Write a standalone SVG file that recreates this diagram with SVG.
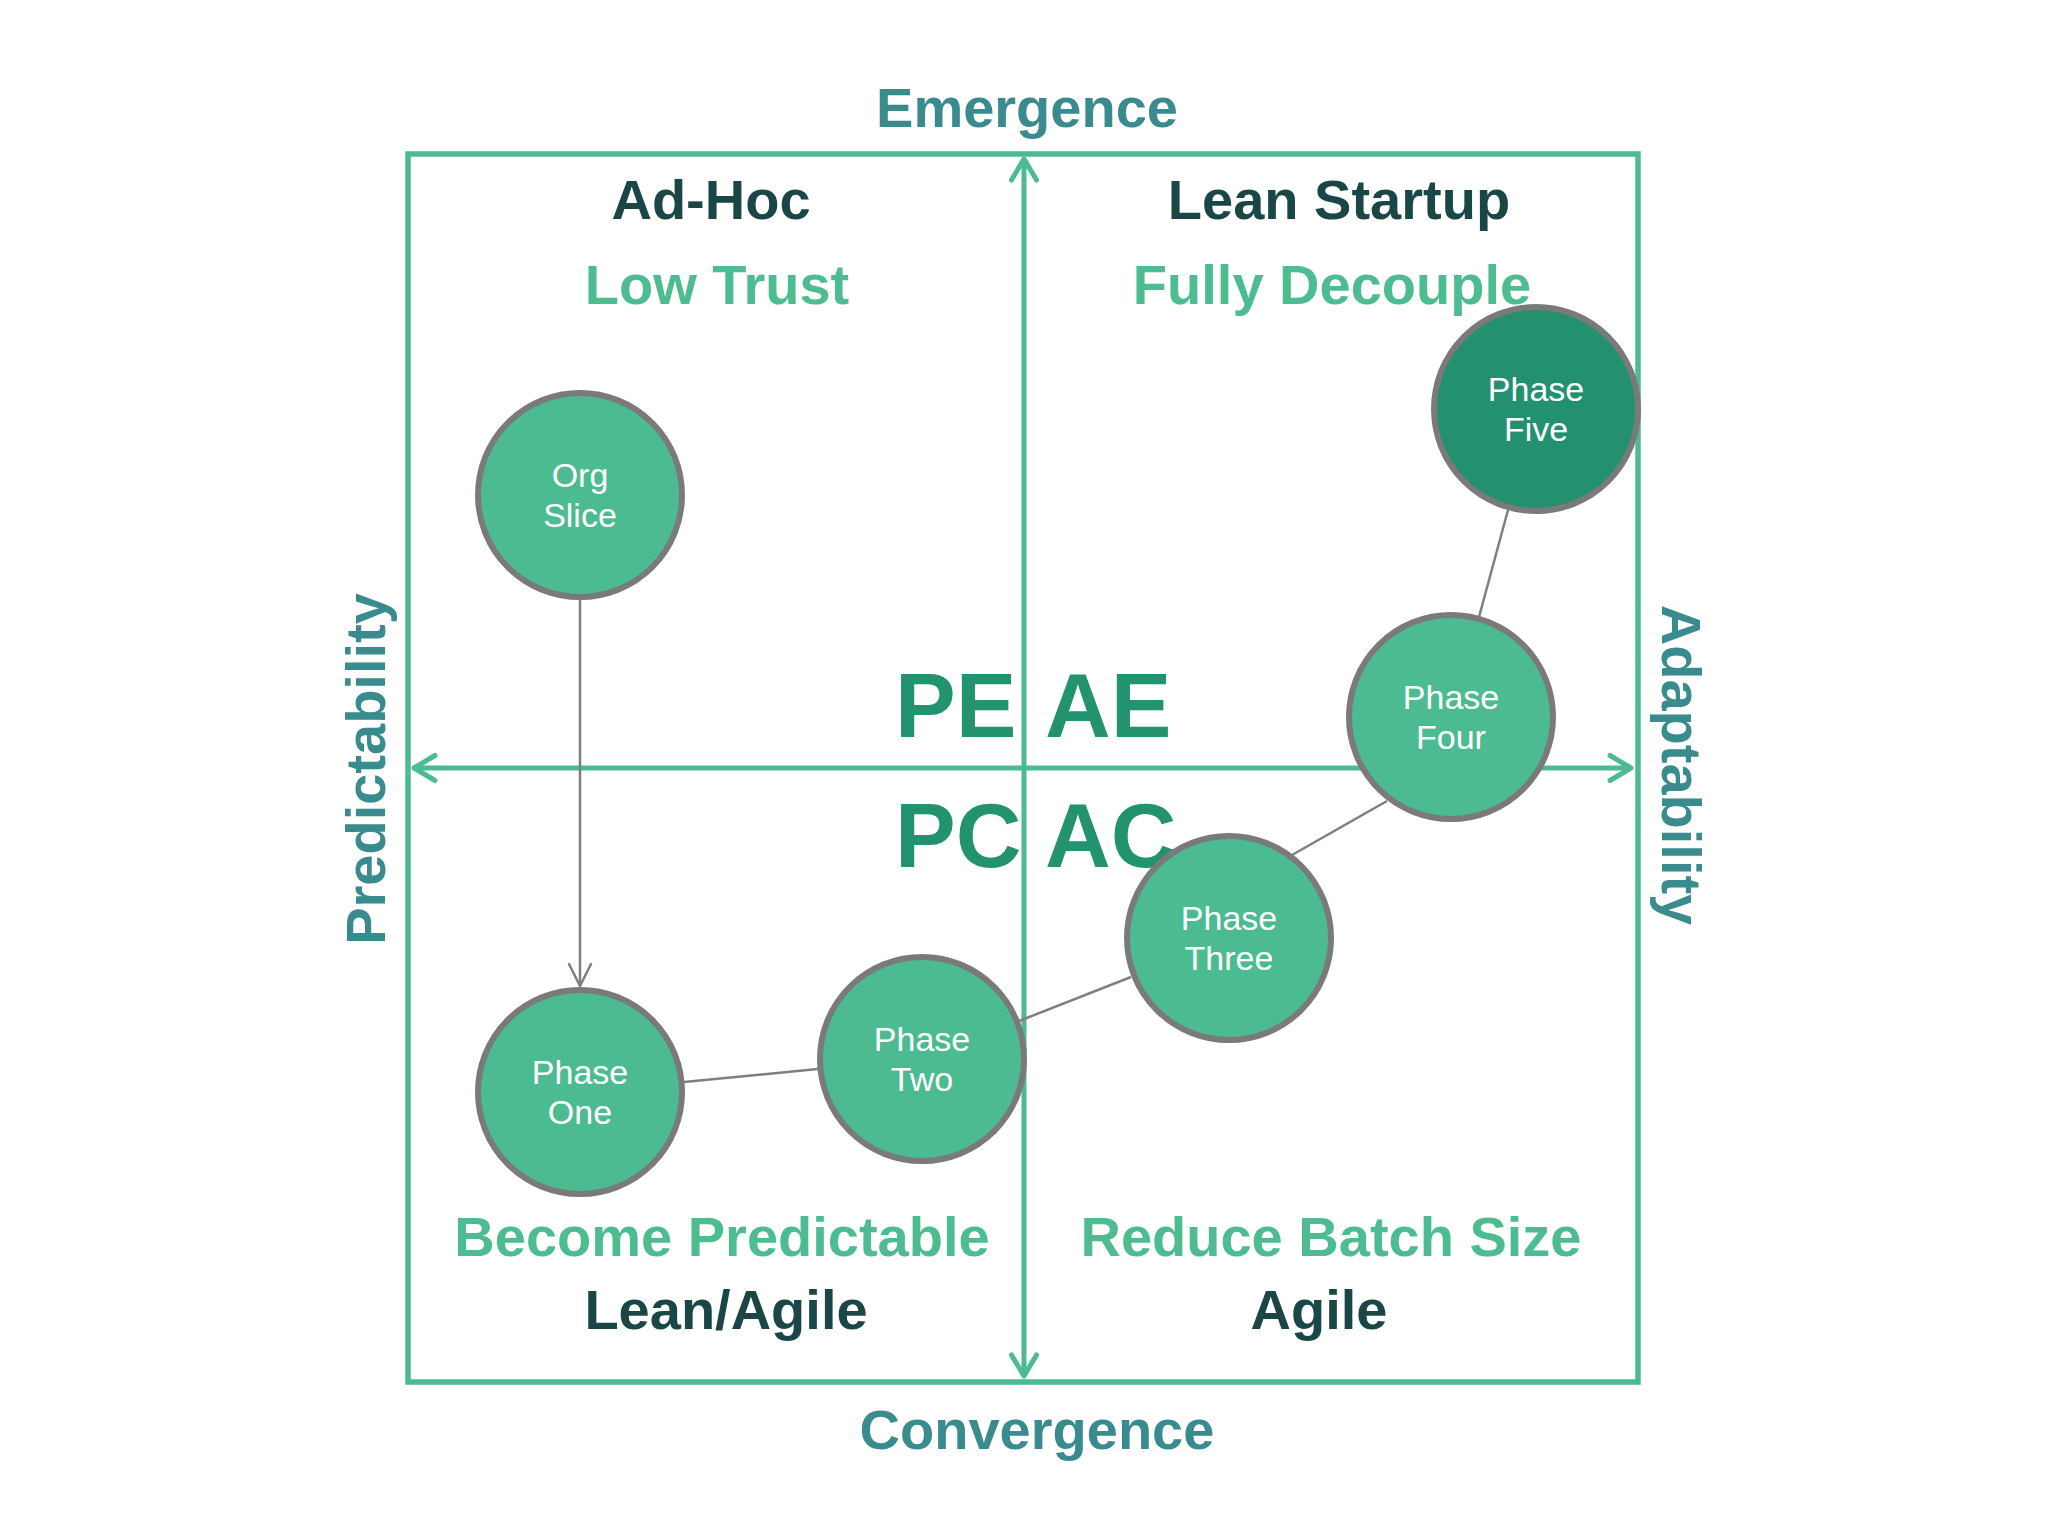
<svg xmlns="http://www.w3.org/2000/svg" width="2048" height="1536" viewBox="0 0 2048 1536">
  <style>
    text { font-family: "Liberation Sans", Arial, "Noto Sans", sans-serif; }
    .axislabel { font-size: 56px; font-weight: bold; fill: #3a8b8d; text-anchor: middle; }
    .title { font-size: 56px; font-weight: bold; fill: #1b4646; text-anchor: middle; }
    .sub { font-size: 56px; font-weight: bold; fill: #4dbd91; text-anchor: middle; }
    .big { font-size: 91px; font-weight: bold; fill: #23926f; }
    .frame { fill: none; stroke: #4dbb92; stroke-width: 5.5; }
    .axis { fill: none; stroke: #4dbb92; stroke-width: 5; marker-start: url(#axisArrow); marker-end: url(#axisArrow); }
    .conn { fill: none; stroke: #7f7f7f; stroke-width: 2.5; }
    .node circle { fill: #4dbb92; stroke: #7a7a7a; stroke-width: 6; }
    .node.dark circle { fill: #23906f; }
    .node text { font-size: 34px; fill: #ffffff; text-anchor: middle; }
  </style>
  <defs>
    <marker id="axisArrow" markerUnits="userSpaceOnUse" viewBox="-30 -20 40 40" refX="0" refY="0" markerWidth="40" markerHeight="40" orient="auto-start-reverse">
      <path d="M -21 -12.5 L 0 0 L -21 12.5" fill="none" stroke="#4dbb92" stroke-width="5" stroke-linecap="round" stroke-linejoin="round"/>
    </marker>
    <marker id="connArrow" markerUnits="userSpaceOnUse" viewBox="-30 -15 35 30" refX="0" refY="0" markerWidth="35" markerHeight="30" orient="auto">
      <path d="M -22 -11 L 0 0 L -22 11" fill="none" stroke="#7f7f7f" stroke-width="2.5" stroke-linecap="round" stroke-linejoin="round"/>
    </marker>
  </defs>

  <rect x="0" y="0" width="2048" height="1536" fill="#ffffff"/>

  <g id="frame">
    <rect class="frame" x="408" y="154" width="1230" height="1228"/>
  </g>

  <g id="axes">
    <line class="axis" x1="414" y1="768" x2="1631" y2="768"/>
    <line class="axis" x1="1024" y1="1376" x2="1024" y2="159"/>
  </g>

  <g id="labels">
    <text class="axislabel" x="1027" y="127">Emergence</text>
    <text class="axislabel" x="1037" y="1449">Convergence</text>
    <text class="axislabel" transform="translate(385,769) rotate(-90)">Predictability</text>
    <text class="axislabel" transform="translate(1662,765) rotate(90)">Adaptability</text>

    <text class="title" x="711" y="219">Ad-Hoc</text>
    <text class="sub" x="717" y="304">Low Trust</text>
    <text class="title" x="1339" y="219">Lean Startup</text>
    <text class="sub" x="1332" y="304">Fully Decouple</text>
    <text class="sub" x="722" y="1256">Become Predictable</text>
    <text class="title" x="726" y="1329">Lean/Agile</text>
    <text class="sub" x="1331" y="1256">Reduce Batch Size</text>
    <text class="title" x="1319" y="1329">Agile</text>

    <text class="big" x="895" y="737">PE</text>
    <text class="big" x="1045" y="737">AE</text>
    <text class="big" x="895" y="867">PC</text>
    <text class="big" x="1045" y="867">AC</text>
  </g>

  <g id="connectors">
    <line class="conn" x1="580" y1="600" x2="580" y2="986" marker-end="url(#connArrow)"/>
    <line class="conn" x1="684" y1="1082" x2="818" y2="1069"/>
    <line class="conn" x1="1019" y1="1021" x2="1131" y2="977"/>
    <line class="conn" x1="1292" y1="855" x2="1387" y2="801"/>
    <line class="conn" x1="1479" y1="617" x2="1508" y2="510"/>
  </g>

  <g id="node-org-slice" class="node">
    <circle cx="580" cy="495" r="102"/>
    <text x="580" y="487">Org</text>
    <text x="580" y="527">Slice</text>
  </g>
  <g id="node-phase-one" class="node">
    <circle cx="580" cy="1092" r="102"/>
    <text x="580" y="1084">Phase</text>
    <text x="580" y="1124">One</text>
  </g>
  <g id="node-phase-two" class="node">
    <circle cx="922" cy="1059" r="102"/>
    <text x="922" y="1051">Phase</text>
    <text x="922" y="1091">Two</text>
  </g>
  <g id="node-phase-three" class="node">
    <circle cx="1229" cy="938" r="102"/>
    <text x="1229" y="930">Phase</text>
    <text x="1229" y="970">Three</text>
  </g>
  <g id="node-phase-four" class="node">
    <circle cx="1451" cy="717" r="102"/>
    <text x="1451" y="709">Phase</text>
    <text x="1451" y="749">Four</text>
  </g>
  <g id="node-phase-five" class="node dark">
    <circle cx="1536" cy="409" r="102"/>
    <text x="1536" y="401">Phase</text>
    <text x="1536" y="441">Five</text>
  </g>
</svg>
